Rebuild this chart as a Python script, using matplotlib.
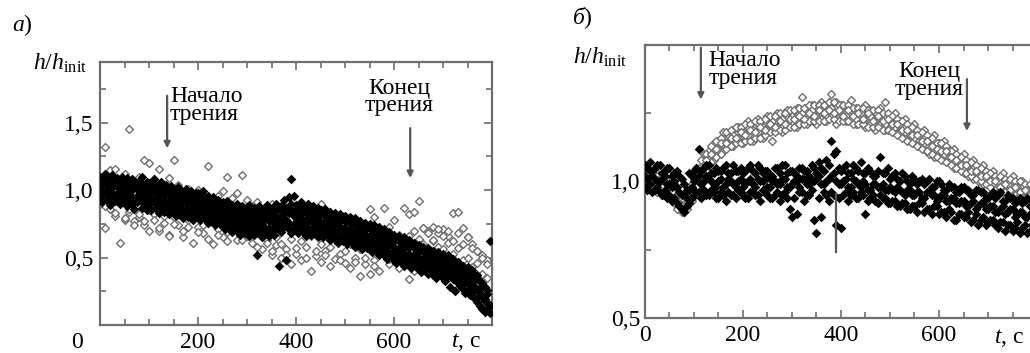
import matplotlib
matplotlib.use("Agg")
import matplotlib.pyplot as plt

plt.rcParams["font.family"] = "serif"
plt.rcParams["font.serif"] = ["Liberation Serif", "DejaVu Serif"]
plt.rcParams["mathtext.fontset"] = "custom"
plt.rcParams["mathtext.rm"] = "Liberation Serif"
plt.rcParams["mathtext.it"] = "Liberation Serif:italic"

# sample times, s
t_even = [0, 10, 20, 30, 40, 50, 60, 70, 80, 90,
          100, 110, 120, 130, 140, 150, 160, 170, 180, 190,
          200, 210, 220, 230, 240, 250, 260, 270, 280, 290,
          300, 310, 320, 330, 340, 350, 360, 370, 380, 390,
          400, 410, 420, 430, 440, 450, 460, 470, 480, 490,
          500, 510, 520, 530, 540, 550, 560, 570, 580, 590,
          600, 610, 620, 630, 640, 650, 660, 670, 680, 690,
          700, 710, 720, 730, 740, 750, 760, 770, 780, 790]
t_odd = [5, 15, 25, 35, 45, 55, 65, 75, 85, 95,
         105, 115, 125, 135, 145, 155, 165, 175, 185, 195,
         205, 215, 225, 235, 245, 255, 265, 275, 285, 295,
         305, 315, 325, 335, 345, 355, 365, 375, 385, 395,
         405, 415, 425, 435, 445, 455, 465, 475, 485, 495,
         505, 515, 525, 535, 545, 555, 565, 575, 585, 595,
         605, 615, 625, 635, 645, 655, 665, 675, 685, 695,
         705, 715, 725, 735, 745, 755, 765, 775, 785, 795]
t_fine = sorted(t_even + t_odd)

# ---------------- panel а : black (filled) points on t_fine ----------------
a_black_1 = [1.10, 1.06, 1.12, 1.08, 1.05, 1.11, 1.07, 1.09, 1.04, 1.10,
             1.06, 1.09, 1.03, 1.08, 1.05, 1.02, 1.07, 1.10, 1.04, 1.06,
             1.05, 1.02, 1.08, 1.03, 1.00, 1.06, 1.02, 1.04, 0.99, 1.03,
             1.00, 0.97, 1.02, 0.99, 0.96, 1.01, 0.97, 0.99, 0.95, 0.98,
             0.98, 0.95, 0.99, 0.94, 0.96, 0.92, 0.95, 0.91, 0.93, 0.90,
             0.91, 0.88, 0.92, 0.87, 0.89, 0.86, 0.90, 0.85, 0.88, 0.86,
             0.86, 0.89, 0.84, 0.87, 0.85, 0.88, 0.84, 0.86, 0.89, 0.85,
             0.87, 0.85, 0.90, 0.86, 0.88, 0.93, 0.87, 0.95, 1.08, 0.96,
             0.89, 0.86, 0.91, 0.87, 0.85, 0.90, 0.86, 0.88, 0.84, 0.87,
             0.85, 0.82, 0.86, 0.81, 0.84, 0.80, 0.83, 0.79, 0.82, 0.80,
             0.81, 0.78, 0.80, 0.76, 0.79, 0.75, 0.77, 0.74, 0.76, 0.73,
             0.75, 0.72, 0.74, 0.70, 0.73, 0.69, 0.71, 0.67, 0.69, 0.66,
             0.67, 0.64, 0.66, 0.62, 0.65, 0.61, 0.63, 0.59, 0.61, 0.58,
             0.59, 0.56, 0.58, 0.54, 0.57, 0.53, 0.55, 0.52, 0.54, 0.51,
             0.53, 0.50, 0.52, 0.47, 0.49, 0.45, 0.47, 0.43, 0.44, 0.41,
             0.43, 0.40, 0.41, 0.36, 0.37, 0.33, 0.31, 0.28, 0.26, 0.62]
a_black_2 = [0.95, 0.91, 0.97, 0.93, 0.89, 0.96, 0.92, 0.94, 0.90, 0.95,
             0.92, 0.88, 0.94, 0.90, 0.86, 0.91, 0.93, 0.87, 0.90, 0.85,
             0.89, 0.85, 0.91, 0.87, 0.83, 0.88, 0.84, 0.86, 0.82, 0.87,
             0.85, 0.81, 0.86, 0.83, 0.79, 0.84, 0.80, 0.82, 0.78, 0.81,
             0.82, 0.78, 0.83, 0.79, 0.76, 0.80, 0.77, 0.74, 0.78, 0.75,
             0.75, 0.71, 0.76, 0.72, 0.69, 0.73, 0.70, 0.67, 0.71, 0.68,
             0.70, 0.66, 0.71, 0.67, 0.52, 0.69, 0.65, 0.72, 0.68, 0.66,
             0.70, 0.67, 0.72, 0.44, 0.69, 0.73, 0.48, 0.71, 0.68, 0.72,
             0.71, 0.68, 0.73, 0.69, 0.66, 0.70, 0.67, 0.71, 0.68, 0.65,
             0.68, 0.65, 0.69, 0.66, 0.63, 0.67, 0.64, 0.61, 0.65, 0.62,
             0.63, 0.60, 0.64, 0.61, 0.58, 0.62, 0.59, 0.56, 0.60, 0.57,
             0.57, 0.54, 0.58, 0.55, 0.52, 0.56, 0.52, 0.49, 0.53, 0.50,
             0.49, 0.46, 0.50, 0.47, 0.44, 0.48, 0.45, 0.42, 0.46, 0.43,
             0.42, 0.39, 0.43, 0.40, 0.38, 0.41, 0.37, 0.35, 0.39, 0.36,
             0.36, 0.33, 0.37, 0.28, 0.34, 0.25, 0.31, 0.29, 0.27, 0.24,
             0.25, 0.22, 0.24, 0.19, 0.17, 0.14, 0.12, 0.10, 0.12, 0.09]
a_black_3 = [1.03, 1.00, 1.05, 1.01, 0.99, 1.02, 1.04, 0.98, 1.01, 1.03,
             0.99, 1.02, 0.97, 1.00, 1.03, 0.96, 0.99, 1.01, 0.97, 0.98,
             0.97, 0.94, 0.99, 0.95, 0.97, 0.93, 0.96, 0.98, 0.92, 0.95,
             0.92, 0.95, 0.90, 0.93, 0.91, 0.94, 0.89, 0.92, 0.90, 0.91,
             0.90, 0.87, 0.91, 0.86, 0.89, 0.85, 0.87, 0.84, 0.86, 0.83,
             0.83, 0.80, 0.84, 0.79, 0.82, 0.78, 0.81, 0.77, 0.80, 0.78,
             0.78, 0.80, 0.76, 0.79, 0.77, 0.80, 0.75, 0.78, 0.81, 0.77,
             0.79, 0.76, 0.81, 0.77, 0.80, 0.82, 0.78, 0.83, 0.85, 0.81,
             0.80, 0.77, 0.82, 0.78, 0.76, 0.80, 0.77, 0.79, 0.75, 0.78,
             0.76, 0.74, 0.77, 0.73, 0.75, 0.72, 0.74, 0.70, 0.73, 0.71,
             0.72, 0.69, 0.71, 0.68, 0.70, 0.66, 0.69, 0.65, 0.67, 0.66,
             0.66, 0.63, 0.65, 0.61, 0.64, 0.60, 0.62, 0.58, 0.60, 0.59,
             0.58, 0.55, 0.57, 0.54, 0.56, 0.52, 0.53, 0.51, 0.52, 0.50,
             0.50, 0.48, 0.49, 0.46, 0.48, 0.45, 0.47, 0.44, 0.45, 0.43,
             0.44, 0.41, 0.43, 0.39, 0.40, 0.37, 0.38, 0.35, 0.36, 0.33,
             0.34, 0.31, 0.32, 0.28, 0.27, 0.24, 0.21, 0.19, 0.16, 0.14]
a_black_4 = [1.07, 0.97, 1.06, 0.96, 1.05, 0.98, 1.08, 0.97, 1.06, 0.99,
             1.04, 0.94, 1.05, 0.95, 1.02, 0.93, 1.04, 0.95, 1.03, 0.92,
             1.01, 0.91, 1.02, 0.92, 0.99, 0.90, 1.00, 0.91, 0.98, 0.89,
             0.97, 0.88, 0.98, 0.87, 0.95, 0.86, 0.96, 0.87, 0.94, 0.85,
             0.95, 0.84, 0.93, 0.83, 0.92, 0.81, 0.91, 0.80, 0.89, 0.79,
             0.88, 0.77, 0.87, 0.76, 0.86, 0.75, 0.85, 0.74, 0.84, 0.74,
             0.83, 0.73, 0.84, 0.72, 0.83, 0.74, 0.82, 0.73, 0.84, 0.72,
             0.84, 0.73, 0.85, 0.74, 0.86, 0.75, 0.87, 0.76, 0.90, 0.75,
             0.85, 0.74, 0.86, 0.73, 0.84, 0.72, 0.83, 0.73, 0.82, 0.71,
             0.82, 0.70, 0.81, 0.69, 0.80, 0.68, 0.78, 0.67, 0.77, 0.66,
             0.77, 0.66, 0.76, 0.64, 0.75, 0.63, 0.73, 0.62, 0.72, 0.61,
             0.71, 0.60, 0.69, 0.58, 0.68, 0.57, 0.66, 0.55, 0.64, 0.54,
             0.63, 0.52, 0.62, 0.51, 0.60, 0.49, 0.58, 0.48, 0.57, 0.47,
             0.55, 0.45, 0.54, 0.44, 0.52, 0.42, 0.51, 0.41, 0.50, 0.40,
             0.48, 0.38, 0.47, 0.36, 0.45, 0.34, 0.43, 0.33, 0.41, 0.31,
             0.39, 0.29, 0.37, 0.27, 0.34, 0.22, 0.29, 0.18, 0.23, 0.15]

# ---------------- panel а : grey (open) points on t_even ----------------
a_grey_1 = [1.10, 1.32, 1.15, 1.16, 1.08, 1.12, 1.45, 1.05, 1.10, 1.22,
            1.20, 1.08, 1.16, 1.02, 1.09, 1.22, 1.04, 0.98, 1.01, 0.97,
            1.00, 0.95, 1.18, 0.92, 0.96, 0.99, 1.10, 0.94, 0.98, 1.11,
            0.93, 0.88, 0.91, 0.86, 0.84, 0.90, 0.82, 0.80, 0.78, 0.86,
            0.79, 0.82, 0.76, 0.80, 0.73, 0.90, 0.77, 0.71, 0.74, 0.70,
            0.76, 0.68, 0.72, 0.75, 0.66, 0.86, 0.80, 0.70, 0.87, 0.73,
            0.78, 0.67, 0.87, 0.82, 0.84, 0.92, 0.72, 0.70, 0.73, 0.68,
            0.71, 0.66, 0.83, 0.84, 0.72, 0.65, 0.60, 0.55, 0.52, 0.48]
a_grey_2 = [0.90, 0.72, 0.86, 0.81, 0.61, 0.78, 0.84, 0.77, 0.80, 0.74,
            0.70, 0.82, 0.70, 0.76, 0.67, 0.80, 0.74, 0.65, 0.78, 0.61,
            0.73, 0.68, 0.76, 0.60, 0.71, 0.65, 0.69, 0.73, 0.63, 0.70,
            0.66, 0.61, 0.68, 0.56, 0.63, 0.52, 0.59, 0.50, 0.56, 0.45,
            0.53, 0.48, 0.58, 0.40, 0.51, 0.47, 0.55, 0.44, 0.49, 0.53,
            0.46, 0.42, 0.50, 0.36, 0.45, 0.38, 0.48, 0.40, 0.52, 0.45,
            0.49, 0.42, 0.47, 0.34, 0.40, 0.52, 0.60, 0.55, 0.62, 0.58,
            0.56, 0.61, 0.53, 0.57, 0.48, 0.50, 0.43, 0.46, 0.38, 0.35]
a_grey_3 = [0.95, 0.88, 1.00, 0.83, 0.92, 0.79, 0.86, 0.74, 0.82, 0.77,
            0.85, 0.78, 0.72, 0.81, 0.66, 0.75, 0.84, 0.70, 0.73, 0.79,
            0.69, 0.74, 0.64, 0.78, 0.67, 0.73, 0.62, 0.70, 0.76, 0.63,
            0.72, 0.66, 0.58, 0.69, 0.61, 0.55, 0.65, 0.60, 0.52, 0.64,
            0.57, 0.62, 0.50, 0.66, 0.55, 0.60, 0.52, 0.58, 0.63, 0.48,
            0.55, 0.60, 0.47, 0.56, 0.50, 0.58, 0.44, 0.53, 0.59, 0.49,
            0.55, 0.62, 0.58, 0.66, 0.70, 0.64, 0.72, 0.68, 0.63, 0.71,
            0.66, 0.70, 0.62, 0.68, 0.60, 0.65, 0.57, 0.55, 0.50, 0.45]

# ---------------- panel б : black (filled) points ----------------
b_black_1 = [1.06, 1.07, 1.05, 1.06, 1.04, 1.05, 1.03, 1.02, 0.99, 1.03,
             1.04, 1.12, 1.05, 1.06, 1.03, 1.04, 1.05, 1.03, 1.06, 1.04,
             1.03, 1.05, 1.04, 1.06, 1.03, 1.04, 1.02, 1.05, 1.06, 1.03,
             1.04, 1.02, 1.05, 1.04, 1.06, 1.03, 1.05, 1.08, 1.15, 1.11,
             1.04, 1.06, 1.03, 1.05, 1.07, 1.03, 1.04, 1.02, 1.09, 1.03,
             1.01, 1.03, 1.00, 1.02, 0.99, 1.01, 1.00, 0.99, 1.01, 0.98,
             1.00, 0.97, 0.99, 0.98, 0.96, 0.98, 0.97, 0.95, 0.97, 0.96,
             0.94, 0.96, 0.95, 0.93, 0.95, 0.94, 0.93, 0.92, 0.94, 0.93]
b_black_2 = [0.98, 0.99, 0.97, 0.96, 0.97, 0.95, 0.94, 0.91, 0.89, 0.92,
             0.95, 0.96, 0.97, 0.95, 0.96, 0.94, 0.95, 0.96, 0.95, 0.97,
             0.95, 0.94, 0.96, 0.95, 0.97, 0.95, 0.94, 0.96, 0.95, 0.94,
             0.87, 0.88, 0.96, 0.95, 0.97, 0.81, 0.87, 0.95, 0.96, 0.84,
             0.83, 0.96, 0.95, 0.94, 0.96, 0.88, 0.94, 0.93, 0.95, 0.94,
             0.92, 0.93, 0.91, 0.92, 0.90, 0.91, 0.92, 0.89, 0.90, 0.91,
             0.88, 0.89, 0.90, 0.86, 0.88, 0.87, 0.89, 0.86, 0.84, 0.87,
             0.85, 0.86, 0.83, 0.85, 0.84, 0.82, 0.85, 0.83, 0.81, 0.84]
b_black_3 = [1.02, 1.04, 1.01, 1.00, 1.02, 0.99, 1.00, 0.96, 0.95, 0.97,
             1.00, 1.02, 1.00, 1.01, 0.99, 1.00, 0.98, 1.01, 0.99, 1.00,
             0.98, 1.00, 0.99, 1.01, 1.00, 0.98, 1.00, 0.99, 1.01, 0.98,
             0.99, 1.00, 1.01, 0.99, 1.00, 1.01, 0.99, 1.00, 1.02, 1.00,
             0.99, 1.01, 0.98, 1.00, 0.98, 0.99, 0.97, 0.99, 0.98, 0.97,
             0.98, 0.96, 0.97, 0.95, 0.97, 0.95, 0.96, 0.94, 0.96, 0.95,
             0.94, 0.95, 0.93, 0.94, 0.92, 0.93, 0.91, 0.93, 0.91, 0.92,
             0.90, 0.91, 0.89, 0.91, 0.89, 0.90, 0.88, 0.89, 0.87, 0.88]
b_black_4 = [1.05, 1.04, 1.06, 1.03, 1.05, 1.02, 1.04, 1.01, 0.97, 1.02,
             1.05, 1.04, 1.06, 1.03, 1.05, 1.04, 1.06, 1.03, 1.04, 1.05,
             1.04, 1.06, 1.03, 1.05, 1.04, 1.02, 1.05, 1.03, 1.06, 1.04,
             1.03, 1.05, 1.04, 1.02, 1.05, 1.07, 1.04, 1.06, 1.10, 1.05,
             1.05, 1.03, 1.06, 1.04, 1.03, 1.05, 1.02, 1.04, 1.03, 1.05,
             1.02, 1.01, 1.03, 1.00, 1.02, 0.99, 1.01, 1.00, 0.98, 1.00,
             0.99, 0.97, 0.98, 0.96, 0.98, 0.97, 0.95, 0.97, 0.96, 0.94,
             0.95, 0.94, 0.96, 0.93, 0.94, 0.92, 0.94, 0.93, 0.91, 0.93]
b_black_5 = [0.97, 0.96, 0.98, 0.95, 0.94, 0.93, 0.92, 0.90, 0.91, 0.94,
             0.96, 0.94, 0.95, 0.97, 0.94, 0.96, 0.93, 0.95, 0.94, 0.96,
             0.94, 0.96, 0.95, 0.93, 0.96, 0.94, 0.95, 0.93, 0.96, 0.90,
             0.94, 0.96, 0.93, 0.95, 0.86, 0.94, 0.96, 0.93, 0.95, 0.94,
             0.95, 0.93, 0.96, 0.94, 0.95, 0.93, 0.95, 0.92, 0.94, 0.92,
             0.93, 0.91, 0.92, 0.90, 0.91, 0.89, 0.92, 0.90, 0.88, 0.91,
             0.89, 0.87, 0.89, 0.86, 0.88, 0.87, 0.85, 0.88, 0.86, 0.84,
             0.86, 0.84, 0.85, 0.82, 0.84, 0.83, 0.81, 0.84, 0.82, 0.80]
b_black_6 = [1.01, 1.02, 1.00, 1.01, 0.99, 0.98, 0.98, 0.95, 0.94, 0.98,
             1.01, 0.99, 1.02, 1.00, 0.98, 1.01, 0.99, 1.00, 0.98, 1.01,
             0.99, 1.01, 0.98, 1.00, 1.01, 0.98, 1.00, 0.99, 1.01, 0.98,
             1.00, 0.98, 1.01, 0.99, 1.00, 1.02, 0.99, 1.01, 1.03, 0.99,
             1.00, 0.98, 1.01, 0.99, 1.00, 0.97, 0.99, 0.98, 0.99, 0.97,
             0.97, 0.98, 0.96, 0.97, 0.95, 0.96, 0.94, 0.96, 0.95, 0.93,
             0.95, 0.93, 0.94, 0.92, 0.93, 0.91, 0.92, 0.90, 0.92, 0.90,
             0.91, 0.89, 0.90, 0.88, 0.90, 0.87, 0.89, 0.87, 0.88, 0.86]

# ---------------- panel б : grey (open) points ----------------
b_grey_1 = [1.03, 1.02, 1.04, 1.01, 1.01, 0.98, 0.99, 0.94, 0.94, 0.95,
            1.01, 1.05, 1.10, 1.11, 1.14, 1.15, 1.18, 1.17, 1.19, 1.20,
            1.19, 1.22, 1.20, 1.23, 1.21, 1.24, 1.23, 1.25, 1.24, 1.26,
            1.25, 1.27, 1.31, 1.26, 1.28, 1.27, 1.29, 1.28, 1.32, 1.29,
            1.28, 1.27, 1.30, 1.27, 1.26, 1.28, 1.26, 1.25, 1.27, 1.29,
            1.24, 1.25, 1.22, 1.23, 1.20, 1.21, 1.18, 1.19, 1.16, 1.17,
            1.14, 1.15, 1.12, 1.12, 1.09, 1.10, 1.07, 1.08, 1.05, 1.06,
            1.03, 1.04, 1.01, 1.03, 1.00, 1.02, 0.99, 1.00, 0.98, 0.99]
b_grey_2 = [0.98, 0.99, 0.97, 0.97, 0.95, 0.96, 0.92, 0.91, 0.89, 0.92,
            0.96, 1.01, 1.03, 1.07, 1.08, 1.11, 1.11, 1.13, 1.13, 1.15,
            1.14, 1.16, 1.15, 1.17, 1.16, 1.18, 1.15, 1.19, 1.18, 1.20,
            1.21, 1.20, 1.22, 1.21, 1.23, 1.21, 1.23, 1.22, 1.24, 1.21,
            1.23, 1.22, 1.23, 1.21, 1.22, 1.20, 1.21, 1.19, 1.21, 1.19,
            1.20, 1.18, 1.18, 1.16, 1.15, 1.14, 1.13, 1.12, 1.10, 1.09,
            1.09, 1.08, 1.07, 1.05, 1.05, 1.03, 1.02, 1.01, 1.00, 0.99,
            0.99, 0.97, 0.97, 0.96, 0.96, 0.95, 0.95, 0.94, 0.94, 0.93]
b_grey_3 = [1.01, 1.00, 1.00, 0.98, 0.99, 0.97, 0.96, 0.92, 0.92, 0.93,
            0.99, 1.02, 1.07, 1.08, 1.12, 1.12, 1.15, 1.14, 1.17, 1.16,
            1.18, 1.17, 1.19, 1.18, 1.20, 1.19, 1.22, 1.20, 1.23, 1.21,
            1.24, 1.22, 1.25, 1.23, 1.26, 1.24, 1.26, 1.24, 1.27, 1.25,
            1.26, 1.24, 1.26, 1.23, 1.25, 1.23, 1.24, 1.22, 1.24, 1.21,
            1.23, 1.20, 1.21, 1.18, 1.19, 1.16, 1.17, 1.14, 1.15, 1.12,
            1.13, 1.10, 1.11, 1.07, 1.08, 1.05, 1.06, 1.03, 1.04, 1.01,
            1.02, 0.99, 1.00, 0.98, 0.99, 0.97, 0.98, 0.96, 0.97, 0.95]
b_grey_4 = [1.03, 1.04, 1.02, 1.02, 1.00, 0.99, 0.96, 0.94, 0.95, 0.99,
            1.04, 1.08, 1.10, 1.13, 1.15, 1.16, 1.18, 1.19, 1.20, 1.20,
            1.21, 1.21, 1.22, 1.22, 1.23, 1.24, 1.24, 1.25, 1.25, 1.26,
            1.26, 1.27, 1.27, 1.28, 1.28, 1.28, 1.28, 1.29, 1.29, 1.28,
            1.28, 1.28, 1.27, 1.27, 1.27, 1.26, 1.26, 1.26, 1.25, 1.25,
            1.24, 1.23, 1.22, 1.21, 1.20, 1.19, 1.18, 1.17, 1.16, 1.14,
            1.14, 1.13, 1.11, 1.10, 1.09, 1.08, 1.07, 1.06, 1.05, 1.04,
            1.03, 1.02, 1.02, 1.01, 1.01, 1.00, 1.00, 0.99, 0.99, 0.98]
b_grey_5 = [0.97, 0.98, 0.96, 0.95, 0.95, 0.93, 0.90, 0.89, 0.90, 0.93,
            0.98, 1.01, 1.04, 1.07, 1.09, 1.10, 1.12, 1.13, 1.14, 1.14,
            1.15, 1.15, 1.16, 1.16, 1.17, 1.18, 1.18, 1.19, 1.19, 1.20,
            1.20, 1.21, 1.21, 1.22, 1.22, 1.22, 1.22, 1.23, 1.23, 1.22,
            1.22, 1.22, 1.21, 1.21, 1.21, 1.20, 1.20, 1.20, 1.19, 1.19,
            1.18, 1.17, 1.16, 1.15, 1.14, 1.13, 1.12, 1.11, 1.10, 1.09,
            1.08, 1.07, 1.06, 1.05, 1.04, 1.03, 1.02, 1.01, 1.00, 0.99,
            0.98, 0.97, 0.97, 0.96, 0.96, 0.95, 0.95, 0.94, 0.94, 0.93]
b_grey_6 = [1.00, 1.01, 0.99, 0.98, 0.97, 0.96, 0.93, 0.91, 0.92, 0.96,
            1.01, 1.04, 1.08, 1.10, 1.12, 1.14, 1.14, 1.16, 1.16, 1.18,
            1.17, 1.19, 1.18, 1.20, 1.19, 1.21, 1.20, 1.22, 1.21, 1.23,
            1.23, 1.24, 1.23, 1.25, 1.24, 1.26, 1.25, 1.26, 1.25, 1.26,
            1.24, 1.26, 1.24, 1.25, 1.23, 1.25, 1.22, 1.24, 1.22, 1.23,
            1.21, 1.21, 1.19, 1.19, 1.17, 1.17, 1.15, 1.15, 1.13, 1.12,
            1.11, 1.11, 1.09, 1.08, 1.06, 1.06, 1.04, 1.04, 1.02, 1.02,
            1.00, 1.00, 0.98, 0.99, 0.97, 0.98, 0.96, 0.97, 0.95, 0.96]

labels_a = ["0,5", "1,0", "1,5"]
labels_b = ["0,5", "1,0"]

GREY = "#6f6f6f"
AXC = "#6e6e6e"
FS = 17      # tick numbers, axis names
FS_NOTE = 17  # "Начало / Конец трения"

fig = plt.figure(figsize=(10.30, 3.53), dpi=100)
ax_a = fig.add_axes([0.0971, 0.0793, 0.3806, 0.7450])
ax_b = fig.add_axes([0.6262, 0.0992, 0.3806, 0.7734])


def style_axes(ax, ylim, yticks, ylabels):
    ax.set_xlim(0, 800)
    ax.set_ylim(*ylim)
    ax.set_xticks([0, 200, 400, 600, 800])
    ax.set_xticks(range(0, 801, 50), minor=True)
    ax.set_yticks(yticks)
    ax.set_yticklabels(ylabels)
    for s in ax.spines.values():
        s.set_color(AXC)
        s.set_linewidth(1.6)
    ax.tick_params(which="both", direction="in", top=True, right=True,
                   color=AXC, width=1.2, labelsize=FS, pad=5)
    ax.tick_params(which="major", length=6)
    ax.tick_params(which="minor", length=4)


def draw_points(ax, grey_sets, black_sets):
    # each set is (times, values)
    for tt, g in grey_sets:
        ax.scatter(tt, g, marker="D", s=16, facecolor="white",
                   edgecolor=GREY, linewidths=1.0, zorder=2)
    for tt, b in black_sets:
        ax.scatter(tt, b, marker="D", s=24, color="black",
                   linewidths=0, zorder=3)


# ---- panel а ----
draw_points(ax_a,
            [(t_even, a_grey_1), (t_even, a_grey_2), (t_even, a_grey_3)],
            [(t_fine, a_black_1), (t_fine, a_black_2),
             (t_fine, a_black_3), (t_fine, a_black_4)])
style_axes(ax_a, (0, 1.95), [0.5, 1.0, 1.5], labels_a)
ax_a.set_yticks([0.25, 0.75, 1.25, 1.75], minor=True)
ax_a.set_xticklabels(["", "200", "400", "600", ""])
xt_a = ax_a.get_xaxis_transform()
ax_a.text(-47, -0.065, "0", transform=xt_a, ha="center", va="center",
          fontsize=FS, clip_on=False)
ax_a.text(748, -0.065, "$t$, с", transform=xt_a, ha="center", va="center",
          fontsize=FS, clip_on=False)

arrow = dict(arrowstyle="-|>", color="#555555", lw=1.6, mutation_scale=9,
             shrinkA=0, shrinkB=0)
ax_a.annotate("", xy=(137, 1.31), xytext=(137, 1.70), arrowprops=arrow)
ax_a.text(143, 1.625, "Начало\nтрения", fontsize=FS_NOTE, ha="left",
          va="center", linespacing=0.8)
ax_a.annotate("", xy=(633, 1.09), xytext=(633, 1.46), arrowprops=arrow)
ax_a.text(610, 1.69, "Конец\nтрения", fontsize=FS_NOTE, ha="center",
          va="center", linespacing=0.8)

# ---- panel б ----
draw_points(ax_b,
            [(t_even, b_grey_1), (t_even, b_grey_2), (t_even, b_grey_3),
             (t_odd, b_grey_4), (t_odd, b_grey_5), (t_odd, b_grey_6)],
            [(t_even, b_black_1), (t_even, b_black_2), (t_even, b_black_3),
             (t_odd, b_black_4), (t_odd, b_black_5), (t_odd, b_black_6)])
style_axes(ax_b, (0.5, 1.5), [0.5, 1.0], labels_b)
ax_b.set_yticks([0.75, 1.25], minor=True)
ax_b.set_xticklabels(["0", "200", "400", "600", ""])
ax_b.tick_params(axis="y", pad=3)
xt_b = ax_b.get_xaxis_transform()
ax_b.text(743, -0.072, "$t$, с", transform=xt_b, ha="center", va="center",
          fontsize=FS, clip_on=False)

ax_b.annotate("", xy=(114, 1.30), xytext=(114, 1.49), arrowprops=arrow)
ax_b.text(129, 1.41, "Начало\nтрения", fontsize=FS_NOTE, ha="left",
          va="center", linespacing=0.8)
ax_b.annotate("", xy=(657, 1.185), xytext=(657, 1.375), arrowprops=arrow)
ax_b.text(580, 1.37, "Конец\nтрения", fontsize=FS_NOTE, ha="center",
          va="center", linespacing=0.8)
ax_b.plot([390, 390], [0.74, 0.955], color="#555555", lw=1.6, zorder=4)

# panel letters and axis names
fig.text(12 / 1030, 1 - 25 / 353, r"$\mathit{а}$)", fontsize=FS,
         ha="left", va="center")
fig.text(572 / 1030, 1 - 18 / 353, r"$\mathit{б}$)", fontsize=FS,
         ha="left", va="center")
fig.text(60 / 1030, 1 - 63 / 353, r"$h/h_{\mathrm{init}}$", fontsize=FS,
         ha="center", va="center")
fig.text(600 / 1030, 1 - 57 / 353, r"$h/h_{\mathrm{init}}$", fontsize=FS,
         ha="center", va="center")

fig.savefig("out.png", dpi=100)
